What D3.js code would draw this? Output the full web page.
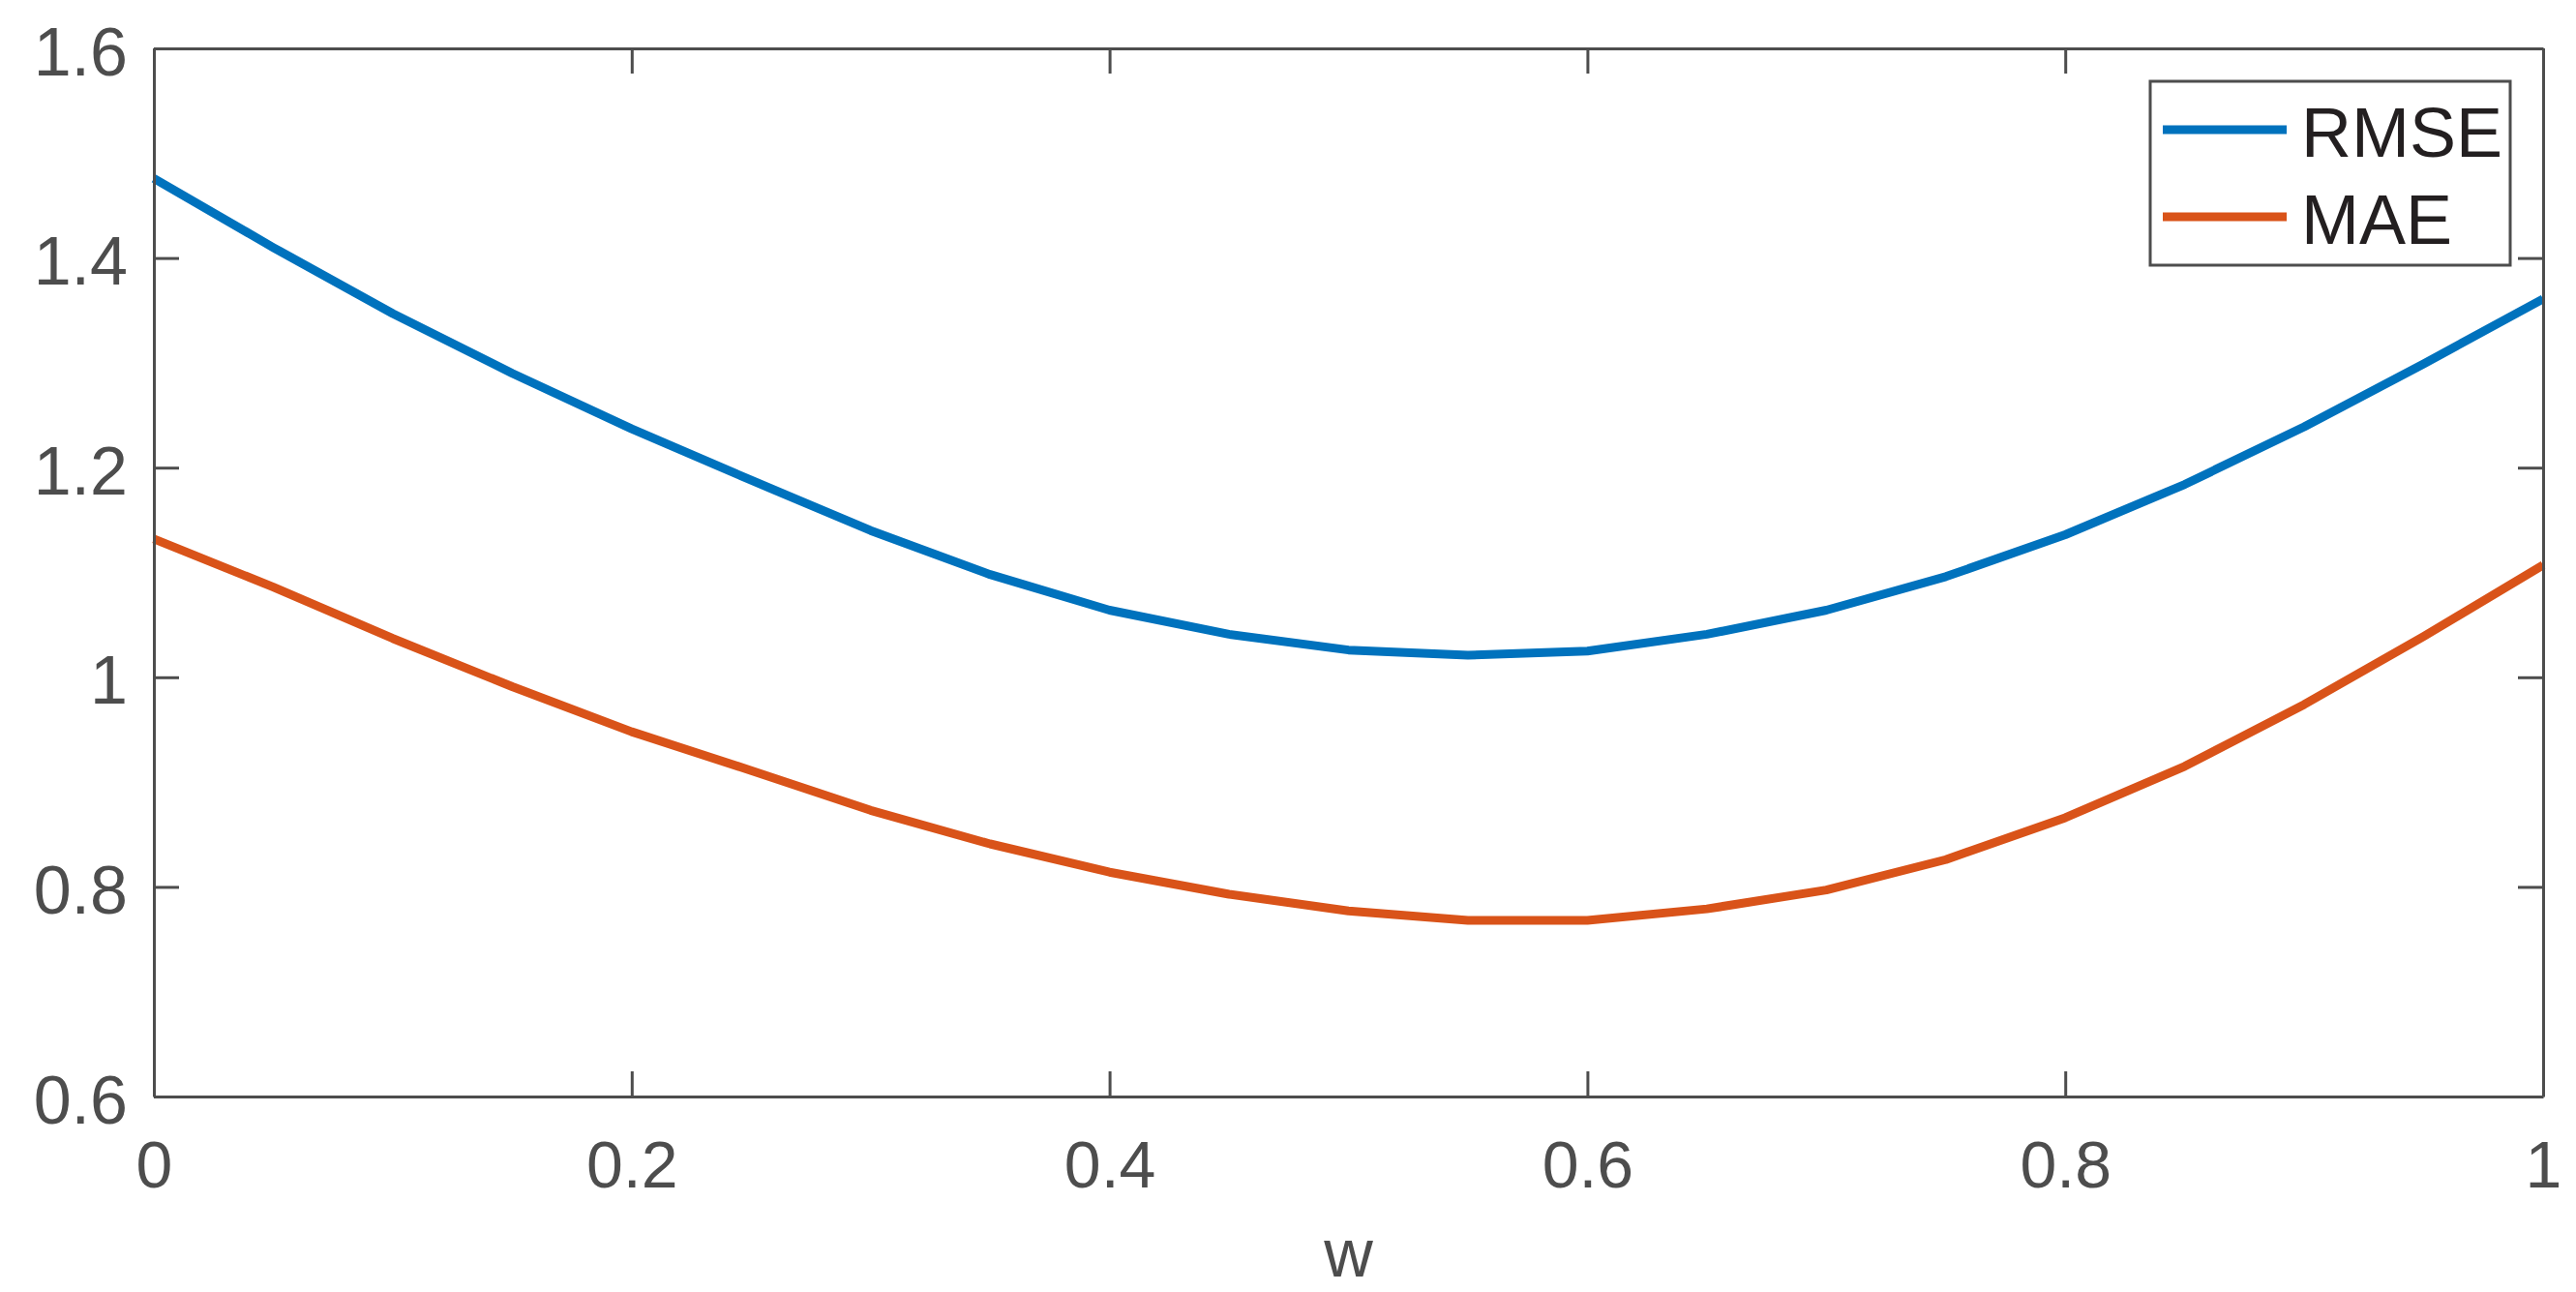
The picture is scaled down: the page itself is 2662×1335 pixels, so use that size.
<!DOCTYPE html>
<html>
<head>
<meta charset="utf-8">
<script src="https://cdn.jsdelivr.net/npm/d3@7"></script>
<style>
  html, body { margin: 0; padding: 0; background: #fff; }
  svg { display: block; font-family: "Liberation Sans", Arial, Helvetica, sans-serif; }
</style>
</head>
<body>
<div id="chart"></div>
<script>
const wValues = [0, 0.05, 0.1, 0.15, 0.2, 0.25, 0.3, 0.35, 0.4, 0.45, 0.5,
  0.55, 0.6, 0.65, 0.7, 0.75, 0.8, 0.85, 0.9, 0.95, 1];
const rmseValues = [1.476, 1.410, 1.347, 1.290, 1.237, 1.188, 1.140, 1.098, 1.064, 1.041, 1.026,
  1.021, 1.025, 1.041, 1.064, 1.096, 1.136, 1.184, 1.239, 1.299, 1.361];
const maeValues = [1.132, 1.086, 1.037, 0.991, 0.948, 0.911, 0.873, 0.841, 0.814, 0.793, 0.777,
  0.768, 0.768, 0.779, 0.797, 0.826, 0.866, 0.915, 0.974, 1.039, 1.107];
const xTicks = [0, 0.2, 0.4, 0.6, 0.8, 1];
const yTicks = [0.6, 0.8, 1, 1.2, 1.4, 1.6];
const seriesNames = ["RMSE", "MAE"];
const seriesColors = ["#0072BD", "#D95319"];

const width = 2662, height = 1335;
const margin = { top: 50, right: 34, bottom: 202, left: 159 };
const innerW = width - margin.left - margin.right;
const innerH = height - margin.top - margin.bottom;
const axisColor = "#4d4d4d";
const tickLen = 26;

const svg = d3.select("#chart").append("svg")
  .attr("width", width)
  .attr("height", height);

const g = svg.append("g")
  .attr("transform", `translate(${margin.left},${margin.top})`);

const x = d3.scaleLinear().domain([0, 1]).range([0, innerW]);
const y = d3.scaleLinear().domain([0.6, 1.6]).range([innerH, 0]);

// data lines
const series = [rmseValues, maeValues];
const line = d3.line()
  .x((d, i) => x(wValues[i]))
  .y(d => y(d));

series.forEach((vals, k) => {
  g.append("path")
    .datum(vals)
    .attr("fill", "none")
    .attr("stroke", seriesColors[k])
    .attr("stroke-width", 9)
    .attr("stroke-linejoin", "round")
    .attr("d", line);
});

// axes (inward ticks, box on)
function styleAxis(sel) {
  sel.select(".domain").attr("stroke", axisColor).attr("stroke-width", 3);
  sel.selectAll(".tick line").attr("stroke", axisColor).attr("stroke-width", 3);
  sel.attr("font-family", null).attr("font-size", null);
}

const xAxisG = g.append("g")
  .attr("transform", `translate(0,${innerH})`)
  .call(d3.axisBottom(x).tickValues(xTicks).tickSizeInner(-tickLen).tickSizeOuter(0)
    .tickFormat(d3.format("~g")));
styleAxis(xAxisG);
xAxisG.selectAll(".tick text")
  .attr("y", 94).attr("dy", null)
  .attr("fill", axisColor)
  .style("font-size", "68px");

const yAxisG = g.append("g")
  .call(d3.axisLeft(y).tickValues(yTicks).tickSizeInner(-tickLen).tickSizeOuter(0)
    .tickFormat(d3.format("~g")));
styleAxis(yAxisG);
yAxisG.selectAll(".tick text")
  .attr("x", -27).attr("y", 27).attr("dy", null)
  .attr("fill", axisColor)
  .style("font-size", "70px");

const xTopG = g.append("g")
  .call(d3.axisTop(x).tickValues(xTicks).tickSizeInner(-tickLen).tickSizeOuter(0).tickFormat(""));
styleAxis(xTopG);

const yRightG = g.append("g")
  .attr("transform", `translate(${innerW},0)`)
  .call(d3.axisRight(y).tickValues(yTicks).tickSizeInner(-tickLen).tickSizeOuter(0).tickFormat(""));
styleAxis(yRightG);

// x label
g.append("text")
  .attr("x", innerW / 2)
  .attr("y", 1319 - margin.top)
  .attr("text-anchor", "middle")
  .attr("fill", axisColor)
  .style("font-size", "70px")
  .text("w");

// legend
const legend = svg.append("g").attr("transform", "translate(2222,84)");
legend.append("rect")
  .attr("width", 372).attr("height", 190)
  .attr("fill", "#fff")
  .attr("stroke", axisColor)
  .attr("stroke-width", 3);

seriesNames.forEach((name, k) => {
  const cy = 50 + k * 90;
  legend.append("line")
    .attr("x1", 13).attr("x2", 141)
    .attr("y1", cy).attr("y2", cy)
    .attr("stroke", seriesColors[k])
    .attr("stroke-width", 9);
  legend.append("text")
    .attr("x", 156)
    .attr("y", cy + 28)
    .attr("fill", "#231f20")
    .style("font-size", "72px")
    .text(name);
});
</script>
</body>
</html>
